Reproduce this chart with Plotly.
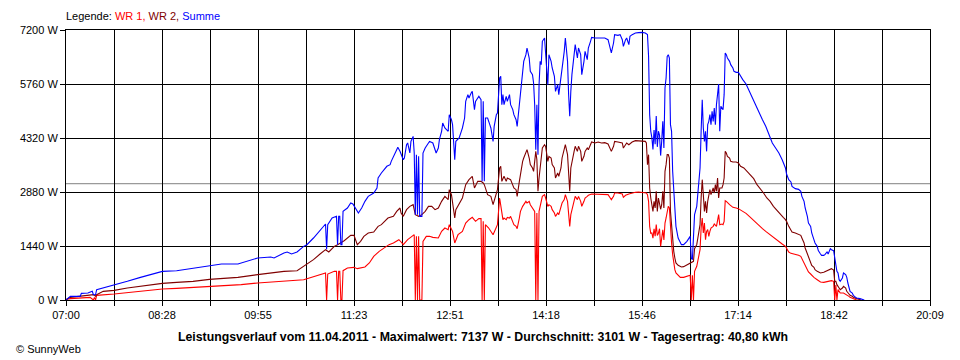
import plotly.graph_objects as go

# ---------------- data ----------------
TICK_LABELS = ["07:00", "08:28", "09:55", "11:23", "12:51",
               "14:18", "15:46", "17:14", "18:42", "20:09"]
Y_TICKS = [0, 1440, 2880, 4320, 5760, 7200]
AVERAGE_W = 3101

TITLE_TEXT = ("Leistungsverlauf vom 11.04.2011 - Maximalwert: 7137 W - "
              "Durchschnitt: 3101 W - Tagesertrag: 40,80 kWh")

# WR 1 (red)
wr1_points = [
    ("07:00", 0), ("07:01", 20), ("07:04", 36), ("07:13", 53), ("07:22", 71), ("07:25", 0),
    ("07:26", 71), ("07:27", 0), ("07:28", 124), ("07:44", 160), ("07:56", 196), ("08:08", 240),
    ("08:20", 276), ("08:28", 293), ("08:41", 311), ("08:56", 338), ("09:11", 364), ("09:22", 373),
    ("09:40", 409), ("09:55", 453), ("10:13", 489), ("10:25", 498), ("10:37", 542), ("10:40", 569),
    ("10:46", 622), ("10:55", 693), ("10:57", 720), ("10:58", 0), ("10:59", 693), ("11:05", 764),
    ("11:07", 764), ("11:08", 0), ("11:09", 764), ("11:10", 764), ("11:11", 0), ("11:12", 0),
    ("11:13", 782), ("11:17", 853), ("11:23", 871), ("11:26", 836), ("11:33", 880), ("11:37", 987),
    ("11:41", 1164), ("11:46", 1298), ("11:50", 1369), ("11:55", 1476), ("11:59", 1520), ("12:04", 1609),
    ("12:06", 1547), ("12:08", 1476), ("12:12", 1609), ("12:17", 1742), ("12:18", 1742), ("12:19", 0),
    ("12:20", 1700), ("12:21", 0), ("12:22", 1700), ("12:23", 0), ("12:24", 0), ("12:25", 0),
    ("12:26", 1564), ("12:29", 1698), ("12:32", 1698), ("12:35", 1671), ("12:40", 1653), ("12:43", 1831),
    ("12:46", 1920), ("12:49", 1876), ("12:50", 2009), ("12:53", 1831), ("12:55", 1520), ("12:58", 1742),
    ("13:02", 1831), ("13:05", 2053), ("13:08", 2142), ("13:11", 2204), ("13:14", 2098), ("13:17", 2169),
    ("13:19", 2169), ("13:20", 0), ("13:21", 2100), ("13:22", 0), ("13:23", 2009), ("13:26", 1920),
    ("13:30", 1742), ("13:33", 1964), ("13:34", 2009), ("13:36", 2720), ("13:37", 2542), ("13:39", 2142),
    ("13:40", 2187), ("13:42", 2142), ("13:43", 2204), ("13:45", 2187), ("13:46", 2231), ("13:48", 2098),
    ("13:49", 2009), ("13:51", 1964), ("13:52", 1902), ("13:54", 2187), ("13:55", 2364), ("13:57", 2498),
    ("13:58", 2542), ("14:00", 2631), ("14:01", 2587), ("14:03", 2631), ("14:04", 2542), ("14:06", 2453),
    ("14:07", 2409), ("14:08", 2364), ("14:09", 0), ("14:10", 2320), ("14:11", 0), ("14:12", 2364),
    ("14:15", 2764), ("14:17", 2809), ("14:18", 2720), ("14:20", 2498), ("14:21", 2542), ("14:23", 2498),
    ("14:24", 2409), ("14:26", 2320), ("14:27", 2231), ("14:29", 2320), ("14:30", 2276), ("14:32", 2453),
    ("14:33", 2587), ("14:35", 2676), ("14:36", 2809), ("14:38", 2631), ("14:39", 2276), ("14:40", 1964),
    ("14:41", 2276), ("14:42", 2409), ("14:44", 2631), ("14:45", 2764), ("14:47", 2676), ("14:48", 2764),
    ("14:50", 2631), ("14:51", 2498), ("14:53", 2631), ("14:54", 2720), ("14:56", 2764), ("14:57", 2791),
    ("15:00", 2827), ("15:03", 2827), ("15:09", 2809), ("15:12", 2827), ("15:15", 2809), ("15:17", 2720),
    ("15:18", 2676), ("15:20", 2764), ("15:21", 2853), ("15:24", 2853), ("15:28", 2827), ("15:29", 2738),
    ("15:31", 2791), ("15:34", 2827), ("15:37", 2853), ("15:40", 2871), ("15:43", 2880), ("15:46", 2871),
    ("15:50", 2853), ("15:51", 2809), ("15:52", 2631), ("15:53", 1960), ("15:54", 1780), ("15:55", 1790),
    ("15:56", 1650), ("15:57", 1900), ("15:58", 1700), ("15:59", 2010), ("16:00", 1720), ("16:01", 1780),
    ("16:02", 1900), ("16:03", 1431), ("16:04", 1700), ("16:05", 1870), ("16:06", 1600), ("16:07", 2053),
    ("16:08", 2187), ("16:09", 2409), ("16:10", 2498), ("16:11", 2453), ("16:12", 1831), ("16:13", 1520),
    ("16:14", 1209), ("16:15", 987), ("16:16", 809), ("16:17", 720), ("16:19", 658), ("16:21", 604),
    ("16:24", 604), ("16:27", 631), ("16:30", 658), ("16:31", 0), ("16:32", 658), ("16:33", 0),
    ("16:34", 764), ("16:36", 898), ("16:37", 1031), ("16:39", 1342), ("16:40", 1920), ("16:41", 2187),
    ("16:42", 1787), ("16:43", 2053), ("16:44", 1609), ("16:45", 1831), ("16:46", 1876), ("16:47", 1698),
    ("16:48", 1831), ("16:49", 1920), ("16:51", 1964), ("16:52", 2027), ("16:54", 1964), ("16:55", 2187),
    ("16:56", 2276), ("16:57", 2009), ("16:59", 2027), ("17:00", 2009), ("17:01", 2098), ("17:02", 2649),
    ("17:03", 2631), ("17:06", 2542), ("17:09", 2471), ("17:12", 2453), ("17:14", 2436), ("17:18", 2364),
    ("17:21", 2311), ("17:24", 2231), ("17:27", 2142), ("17:30", 2053), ("17:33", 1964), ("17:36", 1902),
    ("17:39", 1831), ("17:42", 1760), ("17:45", 1680), ("17:48", 1609), ("17:51", 1547), ("17:54", 1493),
    ("17:57", 1431), ("17:59", 1316), ("18:00", 1280), ("18:02", 1244), ("18:05", 1227), ("18:08", 1209),
    ("18:09", 1191), ("18:11", 1164), ("18:12", 1102), ("18:14", 1013), ("18:15", 924), ("18:17", 809),
    ("18:18", 747), ("18:20", 693), ("18:21", 658), ("18:23", 604), ("18:26", 542), ("18:29", 480),
    ("18:32", 471), ("18:35", 498), ("18:38", 516), ("18:39", 516), ("18:41", 498), ("18:42", 0),
    ("18:43", 400), ("18:44", 0), ("18:45", 276), ("18:46", 231), ("18:47", 187), ("18:50", 187),
    ("18:52", 160), ("18:53", 142), ("18:55", 98), ("18:56", 71), ("18:58", 53), ("18:59", 36),
    ("19:02", 0),
]

# WR 2 (dark red)
wr2_points = [
    ("07:00", 0), ("07:01", 30), ("07:04", 71), ("07:13", 107), ("07:16", 124), ("07:25", 142),
    ("07:27", 98), ("07:28", 142), ("07:34", 231), ("07:44", 258), ("07:56", 320), ("08:08", 364),
    ("08:20", 418), ("08:28", 444), ("08:41", 471), ("08:56", 498), ("09:11", 551), ("09:22", 569),
    ("09:37", 604), ("09:55", 676), ("10:07", 720), ("10:19", 764), ("10:31", 782), ("10:34", 836),
    ("10:40", 960), ("10:46", 1076), ("10:52", 1227), ("10:57", 1342), ("11:00", 1280), ("11:05", 1431),
    ("11:08", 1476), ("11:14", 1582), ("11:20", 1724), ("11:23", 1724), ("11:26", 1476), ("11:29", 1564),
    ("11:32", 1698), ("11:36", 1787), ("11:41", 1813), ("11:45", 1964), ("11:48", 2009), ("11:51", 2098),
    ("11:54", 2187), ("11:59", 2231), ("12:02", 2364), ("12:05", 2453), ("12:06", 2320), ("12:08", 2231),
    ("12:11", 2409), ("12:14", 2498), ("12:17", 2542), ("12:19", 2276), ("12:22", 2231), ("12:25", 2276),
    ("12:28", 2364), ("12:31", 2498), ("12:34", 2498), ("12:37", 2409), ("12:40", 2453), ("12:43", 2631),
    ("12:46", 2764), ("12:49", 2676), ("12:50", 2942), ("12:52", 2809), ("12:53", 2631), ("12:55", 2187),
    ("12:56", 2409), ("12:59", 2587), ("13:02", 2720), ("13:05", 3076), ("13:08", 3209), ("13:11", 3298),
    ("13:13", 2987), ("13:16", 3164), ("13:19", 3164), ("13:21", 3120), ("13:22", 3076), ("13:25", 2809),
    ("13:28", 2764), ("13:30", 2542), ("13:33", 2809), ("13:34", 2942), ("13:36", 3520), ("13:37", 3564),
    ("13:38", 3164), ("13:40", 3298), ("13:42", 3164), ("13:43", 3253), ("13:46", 3209), ("13:48", 3076),
    ("13:49", 2987), ("13:51", 2942), ("13:52", 2764), ("13:54", 3164), ("13:55", 3387), ("13:57", 3698),
    ("13:58", 3787), ("14:00", 3920), ("14:01", 4009), ("14:03", 3787), ("14:04", 3609), ("14:06", 3520),
    ("14:07", 3431), ("14:09", 3964), ("14:10", 3742), ("14:11", 2898), ("14:12", 3253), ("14:15", 4053),
    ("14:17", 4142), ("14:18", 4098), ("14:20", 3698), ("14:21", 3831), ("14:23", 3787), ("14:24", 3609),
    ("14:26", 3520), ("14:27", 3253), ("14:29", 3387), ("14:30", 3298), ("14:32", 3520), ("14:33", 3787),
    ("14:35", 4009), ("14:36", 4142), ("14:38", 3876), ("14:39", 3431), ("14:40", 2898), ("14:41", 3520),
    ("14:42", 3698), ("14:44", 3964), ("14:45", 4098), ("14:47", 3964), ("14:48", 4098), ("14:50", 3964),
    ("14:51", 3698), ("14:53", 3831), ("14:54", 3964), ("14:56", 4053), ("14:57", 4009), ("14:59", 4142),
    ("15:00", 4213), ("15:03", 4187), ("15:06", 4213), ("15:09", 4187), ("15:12", 4196), ("15:15", 4160),
    ("15:17", 4009), ("15:18", 3964), ("15:20", 4098), ("15:21", 4231), ("15:24", 4213), ("15:28", 4187),
    ("15:29", 4053), ("15:31", 4142), ("15:32", 4187), ("15:34", 4142), ("15:37", 4213), ("15:40", 4249),
    ("15:43", 4249), ("15:46", 4249), ("15:49", 4231), ("15:50", 4187), ("15:51", 3609), ("15:52", 3876),
    ("15:53", 2987), ("15:54", 2720), ("15:55", 2542), ("15:56", 2364), ("15:57", 2631), ("15:58", 2453),
    ("15:59", 2898), ("16:00", 2364), ("16:01", 2720), ("16:02", 2498), ("16:03", 2420), ("16:04", 2542),
    ("16:05", 2898), ("16:06", 2453), ("16:07", 3431), ("16:08", 3609), ("16:09", 3876), ("16:10", 3876),
    ("16:11", 3787), ("16:12", 2364), ("16:13", 2009), ("16:14", 1476), ("16:15", 1298), ("16:16", 1120),
    ("16:17", 987), ("16:19", 924), ("16:21", 880), ("16:22", 880), ("16:24", 889), ("16:27", 942),
    ("16:30", 978), ("16:31", 1013), ("16:33", 1031), ("16:34", 1369), ("16:36", 1476), ("16:37", 1653),
    ("16:39", 2009), ("16:40", 2720), ("16:41", 3209), ("16:42", 2809), ("16:43", 2364), ("16:44", 2631),
    ("16:45", 2320), ("16:46", 2631), ("16:47", 2809), ("16:48", 2942), ("16:49", 2809), ("16:51", 2987),
    ("16:52", 2853), ("16:53", 3076), ("16:54", 2898), ("16:55", 3253), ("16:56", 2720), ("16:57", 2987),
    ("16:59", 2987), ("17:00", 3076), ("17:01", 3253), ("17:02", 3964), ("17:03", 3920), ("17:04", 3831),
    ("17:06", 3787), ("17:07", 3698), ("17:09", 3680), ("17:12", 3680), ("17:14", 3653), ("17:16", 3564),
    ("17:19", 3520), ("17:22", 3431), ("17:25", 3342), ("17:28", 3235), ("17:31", 3076), ("17:34", 2969),
    ("17:37", 2853), ("17:40", 2720), ("17:43", 2631), ("17:46", 2498), ("17:49", 2409), ("17:52", 2320),
    ("17:55", 2204), ("17:57", 2142), ("17:58", 2098), ("18:00", 1964), ("18:02", 1876), ("18:03", 1813),
    ("18:06", 1787), ("18:09", 1742), ("18:11", 1724), ("18:12", 1653), ("18:14", 1520), ("18:15", 1387),
    ("18:17", 1227), ("18:18", 1120), ("18:20", 1013), ("18:21", 924), ("18:23", 871), ("18:24", 809),
    ("18:26", 764), ("18:27", 747), ("18:29", 720), ("18:32", 738), ("18:35", 782), ("18:38", 836),
    ("18:39", 836), ("18:41", 800), ("18:42", 498), ("18:43", 498), ("18:44", 409), ("18:46", 320),
    ("18:47", 276), ("18:49", 320), ("18:50", 364), ("18:52", 320), ("18:53", 231), ("18:55", 160),
    ("18:56", 124), ("18:58", 98), ("18:59", 71), ("19:02", 36), ("19:05", 9), ("19:06", 0),
]

# Summe (blue)
summe_points = [
    ("07:00", 0), ("07:01", 20), ("07:04", 100), ("07:13", 98), ("07:14", 178), ("07:20", 185),
    ("07:24", 231), ("07:25", 142), ("07:27", 145), ("07:28", 276), ("07:34", 320), ("07:44", 409),
    ("07:56", 498), ("08:08", 604), ("08:20", 693), ("08:28", 764), ("08:41", 782), ("08:56", 853),
    ("09:11", 924), ("09:22", 960), ("09:37", 960), ("09:43", 1013), ("09:55", 1120), ("10:07", 1147),
    ("10:10", 1120), ("10:19", 1253), ("10:22", 1280), ("10:26", 1227), ("10:31", 1280), ("10:37", 1431),
    ("10:40", 1475), ("10:46", 1653), ("10:52", 1849), ("10:57", 2027), ("10:58", 1351), ("10:59", 2009),
    ("11:03", 2187), ("11:07", 2231), ("11:08", 1476), ("11:09", 2231), ("11:10", 2231), ("11:11", 1476),
    ("11:12", 1476), ("11:13", 2364), ("11:17", 2453), ("11:20", 2587), ("11:22", 2560), ("11:24", 2453),
    ("11:27", 2320), ("11:30", 2453), ("11:33", 2631), ("11:36", 2764), ("11:41", 2853), ("11:44", 2987),
    ("11:45", 3253), ("11:48", 3387), ("11:53", 3565), ("11:56", 3609), ("11:57", 3698), ("12:02", 4009),
    ("12:03", 4071), ("12:05", 3964), ("12:06", 3876), ("12:08", 3742), ("12:09", 3787), ("12:11", 4142),
    ("12:12", 4187), ("12:14", 3920), ("12:15", 4231), ("12:17", 4364), ("12:18", 3920), ("12:19", 2276),
    ("12:20", 3876), ("12:21", 2276), ("12:22", 3831), ("12:23", 2231), ("12:24", 2231), ("12:25", 2231),
    ("12:26", 3920), ("12:28", 4053), ("12:31", 4187), ("12:32", 4231), ("12:35", 4187), ("12:37", 4009),
    ("12:38", 3920), ("12:40", 4053), ("12:41", 4276), ("12:43", 4498), ("12:44", 4720), ("12:46", 4587),
    ("12:49", 4498), ("12:50", 4942), ("12:52", 4809), ("12:53", 4676), ("12:55", 3742), ("12:56", 4231),
    ("12:58", 4276), ("12:59", 4320), ("13:01", 4498), ("13:02", 4587), ("13:04", 4853), ("13:05", 5298),
    ("13:07", 5476), ("13:08", 5387), ("13:10", 5520), ("13:11", 5564), ("13:13", 5076), ("13:14", 5298),
    ("13:16", 5387), ("13:17", 5431), ("13:19", 5342), ("13:20", 3164), ("13:21", 5298), ("13:22", 3164),
    ("13:23", 4853), ("13:25", 4853), ("13:27", 4676), ("13:28", 4587), ("13:30", 4231), ("13:31", 4631),
    ("13:33", 4942), ("13:34", 4987), ("13:36", 5920), ("13:37", 5964), ("13:38", 5209), ("13:39", 5476),
    ("13:40", 5209), ("13:42", 5431), ("13:43", 5298), ("13:45", 5476), ("13:46", 5209), ("13:48", 5076),
    ("13:49", 4942), ("13:51", 4809), ("13:52", 4631), ("13:54", 5209), ("13:55", 5564), ("13:57", 6187),
    ("13:58", 6364), ("14:00", 6542), ("14:01", 6720), ("14:03", 6453), ("14:04", 6098), ("14:06", 6009),
    ("14:07", 5787), ("14:08", 5209), ("14:09", 4009), ("14:10", 5209), ("14:11", 3876), ("14:12", 5742),
    ("14:13", 6364), ("14:14", 6276), ("14:15", 6898), ("14:17", 6987), ("14:18", 6587), ("14:20", 5742),
    ("14:21", 6542), ("14:23", 6364), ("14:24", 6187), ("14:26", 5964), ("14:27", 5564), ("14:29", 5742),
    ("14:30", 5476), ("14:32", 5920), ("14:33", 6276), ("14:35", 6631), ("14:36", 6987), ("14:38", 6364),
    ("14:39", 5476), ("14:40", 4898), ("14:41", 5564), ("14:42", 6009), ("14:44", 6542), ("14:45", 6809),
    ("14:47", 6453), ("14:48", 6720), ("14:50", 6542), ("14:51", 6009), ("14:53", 6364), ("14:54", 6631),
    ("14:56", 6409), ("14:57", 6720), ("14:59", 6898), ("15:00", 7004), ("15:03", 6987), ("15:06", 6987),
    ("15:09", 7004), ("15:12", 6987), ("15:15", 6942), ("15:17", 6720), ("15:18", 6587), ("15:20", 6853),
    ("15:21", 7076), ("15:24", 7058), ("15:26", 7076), ("15:28", 6942), ("15:29", 6764), ("15:31", 6942),
    ("15:32", 6987), ("15:34", 6809), ("15:35", 7031), ("15:37", 7076), ("15:40", 7120), ("15:43", 7129),
    ("15:46", 7137), ("15:49", 7120), ("15:51", 7076), ("15:52", 6498), ("15:53", 4942), ("15:54", 4500),
    ("15:55", 4330), ("15:56", 4014), ("15:57", 4531), ("15:58", 4153), ("15:59", 4908), ("16:00", 4084),
    ("16:01", 4500), ("16:02", 4398), ("16:03", 3851), ("16:04", 4242), ("16:05", 4768), ("16:06", 4053),
    ("16:07", 5653), ("16:08", 5920), ("16:09", 6498), ("16:10", 6542), ("16:11", 6453), ("16:12", 4676),
    ("16:13", 4498), ("16:14", 3431), ("16:15", 2898), ("16:16", 2187), ("16:17", 1964), ("16:19", 1653),
    ("16:21", 1520), ("16:22", 1476), ("16:24", 1476), ("16:27", 1564), ("16:30", 1698), ("16:31", 1120),
    ("16:32", 1076), ("16:33", 1742), ("16:34", 2276), ("16:36", 2498), ("16:37", 2853), ("16:39", 3520),
    ("16:40", 4498), ("16:41", 5342), ("16:42", 4587), ("16:43", 4231), ("16:44", 4498), ("16:45", 3964),
    ("16:46", 4676), ("16:47", 4764), ("16:48", 4942), ("16:49", 4676), ("16:50", 5031), ("16:51", 4764),
    ("16:52", 5120), ("16:53", 4676), ("16:54", 5209), ("16:55", 5564), ("16:56", 5760), ("16:57", 4498),
    ("16:58", 5164), ("17:00", 5076), ("17:01", 5476), ("17:02", 6587), ("17:03", 6542), ("17:04", 6453),
    ("17:06", 6364), ("17:07", 6276), ("17:09", 6187), ("17:10", 6098), ("17:12", 6071), ("17:14", 6071),
    ("17:16", 5964), ("17:18", 5876), ("17:21", 5760), ("17:24", 5564), ("17:27", 5387), ("17:30", 5164),
    ("17:33", 4987), ("17:36", 4809), ("17:39", 4631), ("17:42", 4409), ("17:45", 4187), ("17:48", 4053),
    ("17:51", 3920), ("17:54", 3742), ("17:57", 3520), ("17:58", 3360), ("18:00", 3209), ("18:02", 3147),
    ("18:03", 3031), ("18:06", 2969), ("18:09", 2951), ("18:11", 2898), ("18:12", 2764), ("18:14", 2631),
    ("18:15", 2453), ("18:17", 2231), ("18:18", 2053), ("18:20", 1964), ("18:21", 1787), ("18:23", 1609),
    ("18:24", 1520), ("18:26", 1431), ("18:27", 1316), ("18:29", 1227), ("18:30", 1191), ("18:32", 1191),
    ("18:33", 1209), ("18:35", 1280), ("18:36", 1227), ("18:38", 1369), ("18:39", 1342), ("18:41", 1316),
    ("18:42", 1076), ("18:43", 942), ("18:44", 764), ("18:45", 720), ("18:46", 542), ("18:47", 498),
    ("18:49", 587), ("18:50", 720), ("18:52", 676), ("18:53", 604), ("18:54", 453), ("18:55", 320),
    ("18:56", 231), ("18:58", 187), ("18:59", 124), ("19:01", 71), ("19:02", 53), ("19:05", 36),
    ("19:08", 9), ("19:09", 0),
]

SERIES = [
    ("WR 1", "#ff0000", wr1_points),
    ("WR 2", "#800000", wr2_points),
    ("Summe", "#0000ff", summe_points),
]


def to_minutes(hhmm):
    h, m = hhmm.split(":")
    return int(h) * 60 + int(m)


FONT = "Liberation Sans, Arial, sans-serif"

x_start = to_minutes(TICK_LABELS[0])
x_end = to_minutes(TICK_LABELS[-1])
n_div = 2 * (len(TICK_LABELS) - 1)
tick_vals = [x_start + (x_end - x_start) * i / n_div for i in range(n_div + 1)]
tick_text = [TICK_LABELS[i // 2] if i % 2 == 0 else "" for i in range(n_div + 1)]

fig = go.Figure()

for name, color, pts in SERIES:
    fig.add_trace(go.Scatter(
        x=[to_minutes(t) for t, _ in pts],
        y=[v for _, v in pts],
        mode="lines",
        name=name,
        line=dict(color=color, width=1.1),
        hoverinfo="skip",
    ))

# average line (Durchschnitt)
fig.add_shape(type="line", xref="paper", x0=0, x1=1, yref="y",
              y0=AVERAGE_W, y1=AVERAGE_W, line=dict(color="#808080", width=1),
              layer="below")

fig.update_xaxes(
    range=[x_start, x_end],
    tickmode="array", tickvals=tick_vals, ticktext=tick_text,
    showgrid=True, gridcolor="#000000", gridwidth=1,
    ticks="outside", ticklen=5, tickcolor="#000000", tickwidth=1,
    showline=True, linecolor="#000000", linewidth=1, mirror=True,
    zeroline=False,
    tickfont=dict(family=FONT, size=11, color="#000000"),
)
fig.update_yaxes(
    range=[Y_TICKS[0], Y_TICKS[-1]],
    tickmode="array", tickvals=Y_TICKS, ticktext=[f"{v} W" for v in Y_TICKS],
    showgrid=True, gridcolor="#000000", gridwidth=1,
    ticks="outside", ticklen=5, tickcolor="#000000", tickwidth=1,
    showline=True, linecolor="#000000", linewidth=1, mirror=True,
    zeroline=False,
    tickfont=dict(family=FONT, size=11, color="#000000"),
)

legend_html = ("Legende: "
               + " ".join(f"<span style='color:{c}'>{n}{',' if i < len(SERIES) - 1 else ''}</span>"
                          for i, (n, c, _) in enumerate(SERIES)))

# The page body adds an 8px offset, so the figure is 952x352 and the
# margins are reduced so the plot area lands at x 60..930, y 30..300.
fig.update_layout(
    width=952, height=352,
    margin=dict(l=52, r=30, t=22, b=60),
    paper_bgcolor="#ffffff", plot_bgcolor="#ffffff",
    showlegend=False,
    font=dict(family=FONT, size=11, color="#000000"),
    annotations=[
        dict(text=legend_html, xref="paper", yref="paper", x=-0.002, y=(300 - 16) / 270,
             xanchor="left", yanchor="middle", showarrow=False,
             font=dict(family=FONT, size=11, color="#000000")),
        dict(text=f"<b>{TITLE_TEXT}</b>", xref="paper", yref="paper",
             x=(479.5 - 60) / 870, y=(300 - 337) / 270,
             xanchor="center", yanchor="middle", showarrow=False,
             font=dict(family=FONT, size=12.3, color="#000000")),
        dict(text="© SunnyWeb", xref="paper", yref="paper",
             x=(8 - 60) / 870, y=(300 - 349) / 270,
             xanchor="left", yanchor="middle", showarrow=False,
             font=dict(family=FONT, size=11, color="#000000")),
    ],
)

fig.write_html("out.html")
